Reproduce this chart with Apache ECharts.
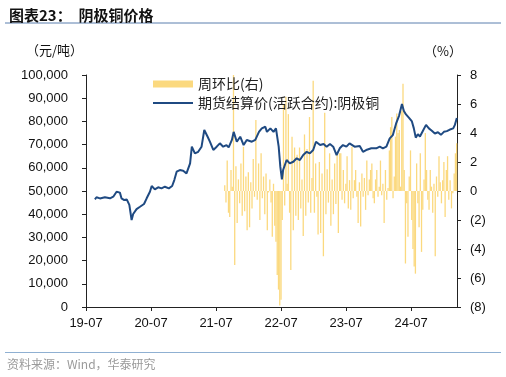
<!doctype html>
<html>
<head>
<meta charset="utf-8">
<title>阴极铜价格</title>
<style>
    html, body { margin: 0; padding: 0; background: #fff; }
    #main { width: 506px; height: 377px; }
</style>
</head>
<body>
<div id="main"></div>
<script src="https://cdn.jsdelivr.net/npm/echarts@6/dist/echarts.min.js"></script>
<script>
var chart = echarts.init(document.getElementById('main'));

// 期货结算价(活跃合约):阴极铜, 元/吨
var priceDates = [
    '2019-08-21', '2019-08-30', '2019-09-18', '2019-10-16', '2019-11-14', '2019-12-02', '2019-12-21',
    '2020-01-09', '2020-01-18', '2020-02-03', '2020-02-16', '2020-03-01', '2020-03-14', '2020-03-23',
    '2020-04-11', '2020-04-30', '2020-05-23', '2020-06-07', '2020-06-25', '2020-07-05', '2020-07-23',
    '2020-08-11', '2020-08-30', '2020-09-18', '2020-10-10', '2020-10-29', '2020-11-10', '2020-11-23',
    '2020-12-11', '2020-12-30', '2021-01-18', '2021-02-07', '2021-02-16', '2021-03-04', '2021-03-23',
    '2021-04-11', '2021-04-26', '2021-05-15', '2021-05-28', '2021-06-16', '2021-07-05', '2021-07-23',
    '2021-08-11', '2021-08-30', '2021-09-11', '2021-09-29', '2021-10-09', '2021-10-27', '2021-11-15',
    '2021-12-04', '2021-12-22', '2022-01-20', '2022-02-08', '2022-02-27', '2022-03-15', '2022-04-04',
    '2022-04-13', '2022-05-02', '2022-05-20', '2022-06-03', '2022-06-18', '2022-06-27', '2022-07-06',
    '2022-07-13', '2022-08-02', '2022-08-20', '2022-09-09', '2022-09-28', '2022-10-16', '2022-11-04',
    '2022-11-23', '2022-12-11', '2022-12-30', '2023-01-15', '2023-02-07', '2023-02-25', '2023-03-14',
    '2023-04-02', '2023-04-20', '2023-05-09', '2023-05-27', '2023-06-14', '2023-07-03', '2023-07-21',
    '2023-08-19', '2023-09-17', '2023-10-05', '2023-10-23', '2023-11-21', '2023-12-19', '2024-01-08',
    '2024-01-26', '2024-02-14', '2024-03-03', '2024-03-21', '2024-04-08', '2024-04-25', '2024-05-11',
    '2024-05-22', '2024-06-03', '2024-06-20', '2024-07-06', '2024-07-17', '2024-07-28', '2024-08-09',
    '2024-08-21', '2024-09-07', '2024-09-24', '2024-10-10', '2024-10-27', '2024-11-13', '2024-11-30',
    '2024-12-17', '2025-01-03', '2025-01-20', '2025-02-06', '2025-02-23', '2025-03-04', '2025-03-15'
];
var priceValues = [
    46400, 47300, 46800, 47300, 46850, 47550, 49700,
    49300, 46850, 46100, 46400, 44000, 37500, 40100,
    42200, 43200, 44400, 46850, 49700, 52150, 50700,
    51600, 51150, 51850, 51150, 52150, 54700, 58300,
    59050, 58750, 57600, 61900, 69100, 66200, 66900,
    69100, 76300, 73400, 71250, 67700, 69100, 70550,
    69100, 69800, 68800, 72000, 75500, 71250, 73400,
    69800, 72000, 71250, 72000, 75500, 77000, 77700,
    75500, 77000, 75500, 77000, 69100, 60500, 55000,
    59050, 63350, 61900, 62600, 64100, 63350, 65500,
    66900, 66200, 67650, 71250, 69800, 70250, 69100,
    70250, 69100, 65500, 68400, 69800, 69100, 70550,
    69100, 69400, 66900, 67650, 68400, 68400, 69100,
    68400, 69100, 72700, 74100, 79000, 82500, 87500,
    84500, 83000, 81500, 80000, 77000, 73000, 74500,
    73500, 76000, 78500, 77000, 76000, 74800, 75300,
    74200, 75500, 75800, 76500, 77000, 78500, 81500
];

// 周环比(右), %, one value per week from weekStart
var weekStart = '2021-08-20';
var weekChange = [
    0.4, -0.8, 2.1, -1.5, -1.8, 1.45, 0.3, 8.0, -5.1, 1.7, -2.2, 0.8, -0.85, 1.9, -1.7, 3.05,
    -1.4, 1.0, -2.7, 1.3, -2.5, 0.6, -1.2, 2.2, -0.4, 4.9, -0.6, 1.9, -2.0, 2.6, -0.5, 1.0,
    -1.6, 1.2, -2.7, -0.1, 0.8, -0.8, -3.15, 0.5, -2.4, -3.5, -5.8, -6.8, -7.9, -7.5,
    -2.0, 6.0, -1.0, 6.5, 0.5, 5.3, -1.5, -5.45, 3.75, -2.7, 3.0, -1.7, 2.5, -2.0, 3.0, -1.2,
    0.8, -3.1, 3.9, -1.7, 2.9, -0.8, 5.1, -1.5, 0.9, 7.6, -1.5, 1.9, -0.4, -3.0, 2.0, -2.9,
    1.2, -4.5, 5.4, -1.6, 1.5, -0.8, 2.6, -2.4, 0.8, -1.6, 1.9, -0.9, 2.5, -2.9, 2.6,
    2.6, -0.6, 1.45, -0.85, 0.5, 2.4, -1.2, 0.75, -1.3, 3.05, -0.5, 0.75, 1.45, -0.4, -2.2, 0.6,
    -2.45, 1.2, -0.4, 0.9, -1.3, 2.1, -0.3, 0.8, 1.45, 1.9, -0.5, -0.85, 0.8, 1.45, -0.4, 0.3,
    2.1, -0.3, 0.5, -2.2, 1.45, -0.6, 0.2, 2.8, 4.4, 5.1, -0.5, 1.0, 3.75, 5.35, 4.0,
    4.2, 0.3, 5.5, 7.4, 1.45, -5.0, -0.85, -3.15, 1.0, 2.8, -2.0, -4.0, -5.2, -5.7, 1.9, -0.85,
    -2.5, 2.6, -4.2, -1.3, 0.8, 4.0, 1.45, -0.6, -1.3, 1.45, 0.3, -1.5, 0.5, -4.5, 1.0, -0.4,
    2.4, 0.6, -0.85, 0.75, 2.0, -1.8, 1.45, 2.4, -0.6, 0.75, -1.2, -0.15, 1.2, 2.6, 3.3
];

var xTickLabels = ['19-07', '20-07', '21-07', '22-07', '23-07', '24-07'];
var axisEnd = '2025-03-16';

// months counted from 2019-07-01, so that each July sits on a tick
function toMonth(s) {
    var p = s.split('-').map(Number);
    var days = new Date(Date.UTC(p[0], p[1], 0)).getUTCDate();
    return (p[0] - 2019) * 12 + (p[1] - 7) + (p[2] - 1) / days;
}
function addDays(s, n) {
    var d = new Date(s + 'T00:00:00Z');
    d.setUTCDate(d.getUTCDate() + n);
    return d.toISOString().slice(0, 10);
}

var lineData = priceDates.map(function (d, i) { return [toMonth(d), priceValues[i]]; });
var barData = weekChange.map(function (v, i) { return [toMonth(addDays(weekStart, i * 7)), v]; });

var labelFont = { color: '#111', fontSize: 13, fontFamily: "'Liberation Sans', Arial, sans-serif" };
var cjk = "'Noto Sans CJK SC', sans-serif";

chart.setOption({
    animation: false,
    backgroundColor: '#fff',
    title: {
        text: '图表23：  阴极铜价格',
        left: 4,
        top: 3,
        textStyle: { fontSize: 15, fontWeight: 'bold', color: '#111', fontFamily: cjk }
    },
    legend: [{
        left: 148,
        top: 72,
        itemWidth: 40,
        itemHeight: 7,
        icon: 'rect',
        data: ['周环比(右)'],
        textStyle: { fontSize: 14, color: '#222', fontFamily: cjk }
    }, {
        left: 148,
        top: 91,
        itemWidth: 40,
        itemHeight: 2,
        icon: 'rect',
        data: ['期货结算价(活跃合约):阴极铜'],
        textStyle: { fontSize: 14, color: '#222', fontFamily: cjk }
    }],
    grid: {
        left: 86,
        right: 49,
        top: 75,
        bottom: 70,
        containLabel: false,
        outerBoundsMode: 'none'
    },
    xAxis: {
        type: 'value',
        min: 0,
        max: toMonth(axisEnd),
        interval: 12,
        axisLine: { onZero: false, lineStyle: { color: '#222' } },
        axisTick: { show: true, length: 4, lineStyle: { color: '#222' } },
        splitLine: { show: false },
        axisLabel: Object.assign({
            margin: 10,
            showMaxLabel: false,
            formatter: function (v) { return xTickLabels[Math.round(v / 12)] || ''; }
        }, labelFont)
    },
    yAxis: [{
        type: 'value',
        min: 0,
        max: 100000,
        interval: 10000,
        axisLine: { show: true, lineStyle: { color: '#222' } },
        axisTick: { show: true, length: 4, lineStyle: { color: '#222' } },
        splitLine: { show: false },
        axisLabel: Object.assign({
            margin: 18,
            formatter: function (v) { return v.toLocaleString('en-US'); }
        }, labelFont)
    }, {
        type: 'value',
        min: -8,
        max: 8,
        interval: 2,
        position: 'right',
        axisLine: { show: true, lineStyle: { color: '#222' } },
        axisTick: { show: true, length: 4, lineStyle: { color: '#222' } },
        splitLine: { show: false },
        axisLabel: Object.assign({
            margin: 13,
            formatter: function (v) { return v < 0 ? '(' + (-v) + ')' : String(v); }
        }, labelFont)
    }],
    graphic: [
        { type: 'line', shape: { x1: 5, y1: 23, x2: 501, y2: 23 }, style: { stroke: '#5b7fae', lineWidth: 1 } },
        { type: 'text', left: 26, top: 44, style: { text: '（元/吨）', fontSize: 13, fill: '#111', fontFamily: cjk } },
        { type: 'text', left: 424, top: 45, style: { text: '（%）', fontSize: 13, fill: '#111', fontFamily: cjk } },
        { type: 'line', shape: { x1: 5, y1: 352.5, x2: 501, y2: 352.5 }, style: { stroke: '#8fb0d2', lineWidth: 1 } },
        { type: 'text', left: 7, top: 358, style: { text: '资料来源：Wind，华泰研究', fontSize: 12, fill: '#9a9a9a', fontFamily: cjk } }
    ],
    series: [{
        name: '周环比(右)',
        type: 'bar',
        yAxisIndex: 1,
        barWidth: 1.3,
        itemStyle: { color: '#fbd97f' },
        data: barData,
        z: 2
    }, {
        name: '期货结算价(活跃合约):阴极铜',
        type: 'line',
        yAxisIndex: 0,
        symbol: 'none',
        lineStyle: { color: '#1f4a82', width: 2 },
        itemStyle: { color: '#1f4a82' },
        data: lineData,
        z: 3
    }]
});
</script>
</body>
</html>
